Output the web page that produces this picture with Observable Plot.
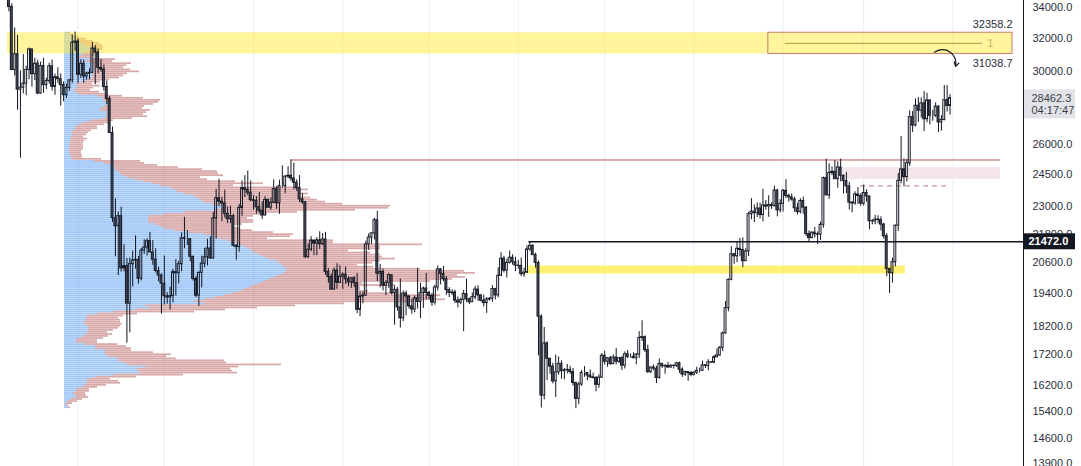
<!DOCTYPE html>
<html><head><meta charset="utf-8">
<script src="https://cdn.jsdelivr.net/npm/d3@7"></script>
<script src="https://cdn.jsdelivr.net/npm/@observablehq/plot@0.6"></script>
<style>
html,body{margin:0;padding:0;background:#fff;}
#wrap{position:relative;width:1081px;height:466px;overflow:hidden;background:#fff;}
#wrap > svg{position:absolute;left:0;top:0;}
</style></head><body><div id="wrap"></div>
<script>
// ---------- daily candles (BTC), from 2022-05-07 ----------
const startDate = "2022-05-07";
const firstOpen = 36020;
const closeMay = [35470,34040,30080,31020,28940,29050,29280,30080,31320,29830,30450,28720,30310,29200,29430,30300,29100,29650,29540,29200,28630,29030,29470,31730,31800];
const highMay  = [36150,35500,34240,32660,32190,30030,31000,30300,31400,31320,30780,30660,30550,30780,29600,30480,30670,29840,30200,29850,29380,29250,29530,32220,32400];
const lowMay   = [34780,33710,30030,29730,27790,25300,28700,28600,29500,29080,29460,28650,28680,28730,28950,29250,28860,28620,29300,28020,28260,28450,28850,29300,31200];
const closeJun = [29800,30450,29700,29860,29910,31370,31130,30200,30110,29090,28420,26580,22490,22140,22580,20380,20470,19020,20550,20700,20720,19970,21100,21230,21500,21030,20730,20280,20100,19780];
const highJun  = [31980,30690,30660,29950,30150,31760,31560,31330,30700,30380,29440,28550,26900,23360,22760,22980,21350,20780,20800,21080,21720,20860,21200,21560,21600,21870,21520,21180,20430,20170];
const lowJun   = [29300,29580,29300,29480,29500,29880,29220,29850,29950,28850,28100,26560,22300,20850,20100,20230,20240,17600,17960,19650,20350,19760,19890,20950,20880,21000,20500,20200,19850,18630];
const closeJul = [19300,19250,19300,20230,20190,20550,21620,21590,21590,20850,19960,19320,20200,20570,20830,21190,20780,22480,23390,23230,23150,22680,22450,22580,21310,21250,22950,23850,23780,23640,23300];
const highJul  = [20880,19430,19640,20350,20730,20670,21850,22530,21950,21600,20870,20060,20250,20880,21200,21580,21680,22750,23800,24280,23430,23760,22990,23020,22660,21340,23100,24200,24450,24670,24200];
const lowJul   = [18970,19000,18780,19050,19300,19770,20250,21180,21320,20650,19880,19240,18910,19620,20400,20480,20750,20760,21580,23000,22340,22500,22250,22250,21250,20710,21040,22580,23420,23500,23230];
const closeAug = [23270,22980,22820,22610,23310,22960,23180,23810,23160,23950,23950,24400,24440,24310,24110,23850,23340,23210,20830,21140,21520,21400,21530,21370,21570,20240,20040,19550,20290,19810,20050];
const highAug  = [23500,23460,23650,23220,23460,23350,23400,24250,23930,24230,24920,24450,24880,25210,25050,24250,24450,23600,23210,21380,21690,21520,21650,21900,21820,21870,20380,20150,20400,20570,20490];
const lowAug   = [22850,22670,22690,22430,22590,22940,22840,23150,22880,22660,23860,23600,24300,24170,23780,23700,23190,23110,20780,20800,21060,20890,20890,21150,21310,20110,19800,19540,19540,19560,19800];
const closeSep = [20130,19950,19830,19990,19800,18790,19290,19320,21360,21650,21830,22400,20170,20240,19700,19800,20110,19420,19540,18880,18480,19400,19290,18920,18800,19220,19080,19410,19590,19420];
const highSep  = [20200,20440,20050,20000,20060,20180,19460,19450,21500,21800,21850,22490,22800,20540,20350,19890,20180,20110,19690,19630,19960,19500,19500,19310,19180,19310,20380,19790,19650,20180];
const lowSep   = [19560,19750,19660,19600,19630,18650,18540,19010,19300,21110,21360,21550,19860,19620,19500,19320,19600,19340,18230,18740,18130,18360,18570,18820,18630,18680,18820,18470,18840,19160];
const closeOct = [19310,19060,19630,20340,20160,19960,19530,19420,19440,19130,19060,19160,19380,19180,19070,19260,19550,19330,19130,19040,19170,19200,19570,19330,20090,20770,20290,20600,20810,20630,20490];
const highOct  = [19480,19400,19720,20480,20370,20460,20060,19620,19540,19530,19270,19220,19520,19950,19230,19420,19680,19700,19350,19340,19250,19250,19700,19600,20410,21020,20870,20750,21090,20930,20830];
const lowOct   = [19160,18920,18960,19500,19730,19850,19330,19250,19320,19020,18860,18980,18000,19070,18990,19070,19160,19100,19080,18900,18660,19110,19070,19160,19240,20060,20200,20000,20550,20510,20250];
const closeNov = [20480,20150,20210,21150,21300,20920,20600,18540,15880,17590,17070,16810,16330,16620,16900,16660,16690,16700,16630,16280,15780,16230,16600,16600,16520,16460,16440,16220,16450,17170];
const highNov  = [20700,20800,20390,21300,21470,21350,21000,20680,18600,18150,17650,17080,16920,17190,17130,17000,16750,16880,16820,16750,16300,16300,16680,16810,16610,16700,16600,16480,16540,17250];
const lowNov   = [20350,20060,20030,20180,21080,20900,20390,17170,15500,15750,16360,16560,16250,15820,16530,16400,16380,16570,16560,16180,15480,15600,16170,16460,16350,16420,16400,16000,16110,16430];
const closeDec = [16970,17090,16890,17110,16970,17090,16840,17220,17130,17130,17090,17210,17780,17810,17360,16630,16780,16740,16440,16900,16820,16830,16780,16840,16830,16920,16710,16550,16630,16600,16540];
const highDec  = [17320,17100,17150,17200,17420,17100,17140,17300,17350,17230,17270,17240,18000,18390,17850,17530,16800,16860,16820,17060,16900,16870,16950,16870,16860,16930,16960,16770,16660,16640,16650];
const lowDec   = [16860,16790,16860,16880,16870,16910,16680,16730,17070,17090,17070,16870,17080,17660,17280,16580,16580,16670,16260,16400,16750,16560,16760,16760,16730,16780,16590,16460,16490,16330,16480];
const closeJan = [16610,16670,16670,16850,16830,16950,16940,17120,17180,17440,17940,18850,19930,20950,20870,21180,21130,20670,21070,22670,22780,22710,22920,22630,23060,23010,23080,23030,23740,22840,23130];
const highJan  = [16630,16790,16760,16990,16880,17040,16970,17180,17400,17490,17990,19100,19960,21260,20990,21450,21610,21640,21180,22750,23370,23080,23170,23160,23800,23280,23500,23180,23950,23800,23320];
const lowJan   = [16500,16550,16600,16650,16750,16670,16910,16910,17100,17150,17310,17910,18720,19890,20550,20610,20850,20410,20660,20860,22420,22300,22520,22460,22330,22850,22530,22880,22990,22550,22720];
const closeFeb = [23730,23490,23430,23330,22930,22760,23260,22960,21800,21630,21860,21790,21770,22200,24330,23520,24570,24630,24280,24840,24440,24190,23940,23190,23150,23560,23490,23140];
const highFeb  = [23800,24250,23580,23590,23430,23160,23370,23450,23010,21940,21900,22090,21890,22320,24380,25250,25020,24870,25190,25120,25250,24480,24600,24130,23220,23690,23880,23600];
const lowFeb   = [22760,23370,23210,23250,22750,22630,22680,22660,21690,21460,21600,21630,21350,21530,22050,23510,23340,24450,24280,23850,24150,23580,23600,22850,22730,23070,23100,23020];
const closeMar = [23630,23470,22360,22350,22430,22410,22210,21710,20360,20190,20630,22160,24200,24750,24380,25050,27420,26970,28040,27770,28170,27310,28330,27490,27490,27990,27140,27270,28350,28030,28462.3];
const highMar  = [24000,23780,23480,22420,22610,22600,22550,22270,21820,20370,20790,22190,24550,26400,25270,25230,27760,27720,28420,28500,28480,28830,28740,28380,27790,28200,28040,27500,29180,29170,28660];
const lowMar   = [23030,23200,21980,22200,22200,22240,21930,21580,20050,19400,19800,20440,21920,24060,23920,24150,24890,26610,26900,27150,27370,26650,27120,27000,27200,27400,26600,26680,27220,27700,27530];

// ---------- volume profile rows (top -> bottom), up volume and total volume ----------
const profileHigh = 32400, profileLow = 15480;
const profileUp = [3,6,9,11,14,17,20,25,28,24,20,17,15,
 26,22,29,29,30,30,30,29,28,28,24,18,12,14,12,10,
 11,14,33,39,39,42,45,40,37,36,43,42,43,39,28,20,15,12,11,9,8,8,7,7,6,6,6,5,5,5,6,6,7,8,
 30,40,50,50,51,53,56,58,63,70,79,88,96,106,110,113,120,129,133,136,139,148,159,158,150,120,100,84,84,84,84,90,95,100,110,125,140,150,155,163,168,175,180,185,188,190,195,200,205,212,215,218,220,222,222,220,215,210,205,200,195,190,185,180,175,168,160,150,140,
 130,140,81,86,71,49,33,23,22,22,20,20,23,24,24,23,23,19,15,12,12,21,31,31,41,41,41,44,54,54,59,64,81,73,73,76,49,31,23,23,23,21,18,12,12,9,11,12,6,4,1,2,4];
const profileTotal = [6,9,15,22,28,35,38,39,38,34,31,30,28,
 51,48,67,62,59,66,75,63,59,55,45,36,28,36,29,26,
 35,41,58,79,96,94,89,80,78,86,82,79,83,68,49,45,40,33,33,27,24,22,19,23,20,19,19,19,19,17,17,18,18,37,
 76,80,93,114,138,153,154,159,136,143,171,199,169,236,244,234,244,236,246,253,261,278,326,324,291,233,203,189,183,189,189,178,169,176,188,209,229,226,203,269,269,358,316,316,284,306,316,318,331,316,308,293,309,356,400,411,393,401,388,366,298,331,296,296,304,330,376,371,381,
 350,280,231,193,161,130,73,59,54,56,56,58,56,54,49,43,48,44,39,33,33,53,62,67,67,89,107,102,112,160,162,217,174,166,168,173,119,72,46,54,56,42,33,25,25,21,22,24,18,13,8,4,6];

// ---------- axis ticks ----------
const yTicks = [34000,32000,30000,26000,24500,23000,21800,20600,19400,18200,17200,16200,15400,14600,13900];

// ---------- drawings ----------
const topZone = {from:"2022-05-07T12:00Z", to:"2023-04-21T17:00Z", lo:31038.7, hi:32358.2};
const boxStart = "2023-01-26T21:00Z";
const boxMid = 31691, boxLineFrom = "2023-02-01T19:00Z", boxLineTo = "2023-04-11T07:00Z", boxTag = "1", boxTagAt = "2023-04-14T00:00Z";
const lowZone = {from:"2022-11-04T05:00Z", to:"2023-03-15T12:00Z", lo:20157, hi:20475};
const redLevel = {price:25210, from:"2022-08-14T00:00Z", to:"2023-04-17T12:00Z"};
const pinkZone = {from:"2023-02-21T14:00Z", to:"2023-04-17T12:00Z", lo:24270, hi:24830};
const dashLevel = {price:23960, from:"2023-02-27T22:00Z", to:"2023-03-31T05:00Z"};
const blackLevel = {price:21472, from:"2022-11-04T16:00Z"};
const arrowPts = {x1:"2023-03-25T14:00Z", y1:31147, x2:"2023-04-01T22:00Z", y2:30284};
const lastPrice = 28462.3, countdown = "04:17:47";

// ---------- build ----------
const closes = [].concat(closeMay,closeJun,closeJul,closeAug,closeSep,closeOct,closeNov,closeDec,closeJan,closeFeb,closeMar);
const highs = [].concat(highMay,highJun,highJul,highAug,highSep,highOct,highNov,highDec,highJan,highFeb,highMar);
const lows = [].concat(lowMay,lowJun,lowJul,lowAug,lowSep,lowOct,lowNov,lowDec,lowJan,lowFeb,lowMar);
const candles = closes.map((c, i) => {
  const date = d3.utcDay.offset(new Date(startDate), i);
  const open = i === 0 ? firstOpen : closes[i - 1];
  return {
    date, open, close: c,
    high: Math.max(highs[i], open, c), low: Math.min(lows[i], open, c),
    top: Math.max(open, c), bot: Math.min(open, c),
    x1: d3.utcHour.offset(date, -8), x2: d3.utcHour.offset(date, 8),
    up: c >= open
  };
});

const nRows = profileUp.length;
const ratio = profileLow / profileHigh;
const rows = profileUp.map((u, k) => ({
  up: u, total: profileTotal[k],
  yA: profileHigh * Math.pow(ratio, (k + 0.12) / nRows),
  yB: profileHigh * Math.pow(ratio, (k + 0.97) / nRows)
}));

const W = 1081, H = 466;
const xDomain = [new Date("2022-05-05T01:46Z"), new Date("2023-04-25T12:43Z")];
const yScale = {type: "log", domain: [13818, 34470], axis: null};
const common = {width: W, height: H, marginTop: 0, marginBottom: 0, marginLeft: 0, marginRight: 58};
const D = s => new Date(s);
const months = d3.utcMonth.range(new Date("2022-06-01"), new Date("2023-04-02"));

// layer 1: grid
const grid = Plot.plot({
  ...common,
  style: {background: "#ffffff"},
  x: {type: "utc", domain: xDomain, axis: null},
  y: yScale,
  marks: [Plot.ruleX(months, {stroke: "#eceef2", strokeWidth: 1})]
});

// layer 2: volume profile (semi-transparent, like the original)
const profile = Plot.plot({
  width: W, height: H, marginTop: 0, marginBottom: 0, marginLeft: 0, marginRight: 0,
  style: {background: "transparent"},
  x: {type: "linear", domain: [0, 1000], range: [64, 1064], axis: null},
  y: yScale,
  marks: [
    Plot.rect(rows, {x1: 0, x2: "up", y1: "yA", y2: "yB", fill: "#5c9ff0", fillOpacity: 0.58}),
    Plot.rect(rows, {x1: "up", x2: "total", y1: "yA", y2: "yB", fill: "#b35252", fillOpacity: 0.5})
  ]
});

// layer 3: drawings, candles, axis
const front = Plot.plot({
  ...common,
  style: {background: "transparent", fontFamily: "Liberation Sans, Arial, sans-serif", fontSize: "11px", color: "#2a2e39"},
  x: {type: "utc", domain: xDomain, axis: null},
  y: yScale,
  marks: [
    Plot.rect([pinkZone], {x1: d => D(d.from), x2: d => D(d.to), y1: "lo", y2: "hi", fill: "#f4e6e8"}),
    Plot.rect([topZone], {x1: d => D(d.from), x2: d => D(d.to), y1: "lo", y2: "hi", fill: "#ffeb3b", fillOpacity: 0.5}),
    Plot.rect([topZone], {x1: () => D(boxStart), x2: d => D(d.to), y1: "lo", y2: "hi", fill: "none", stroke: "#c97d6c", strokeWidth: 1}),
    Plot.ruleY([boxMid], {x1: D(boxLineFrom), x2: D(boxLineTo), stroke: "#a99b40", strokeWidth: 1}),
    Plot.text([boxTag], {x: D(boxTagAt), y: boxMid, text: d => d, fill: "#c4b55c", fontSize: 11}),
    Plot.text([topZone], {x: d => D(d.to), y: "hi", text: d => d.hi.toFixed(1), textAnchor: "end", dy: -8, fill: "#2a2e39", fontSize: 11}),
    Plot.text([topZone], {x: d => D(d.to), y: "lo", text: d => d.lo.toFixed(1), textAnchor: "end", dy: 10, fill: "#2a2e39", fontSize: 11}),
    Plot.rect([lowZone], {x1: d => D(d.from), x2: d => D(d.to), y1: "lo", y2: "hi", fill: "#ffeb3b", fillOpacity: 0.72}),
    Plot.ruleY([redLevel], {y: "price", x1: d => D(d.from), x2: d => D(d.to), stroke: "#c25a5a", strokeWidth: 1}),
    Plot.ruleY([dashLevel], {y: "price", x1: d => D(d.from), x2: d => D(d.to), stroke: "#c47474", strokeWidth: 1, strokeDasharray: "5,4"}),
    Plot.ruleY([blackLevel], {y: "price", x1: d => D(d.from), x2: () => xDomain[1], stroke: "#131722", strokeWidth: 1.5}),
    // candles
    Plot.ruleX(candles, {x: "date", y1: "low", y2: "bot", stroke: "#131722", strokeWidth: 1}),
    Plot.ruleX(candles, {x: "date", y1: "top", y2: "high", stroke: "#131722", strokeWidth: 1}),
    Plot.rect(candles, {x1: "x1", x2: "x2", y1: "bot", y2: "top", fill: d => d.up ? "none" : "#4b5161", stroke: "#131722", strokeWidth: 1}),
    // annotation arrow
    Plot.arrow([arrowPts], {x1: d => D(d.x1), y1: "y1", x2: d => D(d.x2), y2: "y2", bend: 70, headLength: 6, stroke: "#131722", strokeWidth: 1.2}),
    // right axis
    Plot.ruleX([xDomain[1]], {stroke: "#131722", strokeWidth: 1}),
    Plot.axisY(yTicks, {anchor: "right", tickSize: 0, tickPadding: 9, tickFormat: d => d.toFixed(1), fontSize: 11}),
    // price labels on axis
    Plot.rect([lastPrice], {y1: d => d, y2: d => d, insetTop: -8.3, insetBottom: -20.7, insetLeft: 1024, insetRight: -52, fill: "#e1e3e8"}),
    Plot.text([lastPrice], {y: d => d, text: d => d.toFixed(1), frameAnchor: "right", dx: 8, textAnchor: "start", fill: "#3c3f47", fontSize: 11}),
    Plot.text([countdown], {y: lastPrice, text: d => d, frameAnchor: "right", dx: 8, dy: 12.5, textAnchor: "start", fill: "#3c3f47", fontSize: 11}),
    Plot.rect([blackLevel], {y1: "price", y2: "price", insetTop: -8, insetBottom: -8, insetLeft: 1024, insetRight: -52, fill: "#131722"}),
    Plot.text([blackLevel], {y: "price", text: d => d.price.toFixed(1), frameAnchor: "right", dx: 5, textAnchor: "start", fill: "#ffffff", fontWeight: "bold", fontSize: 11})
  ]
});

const wrap = document.getElementById("wrap");
wrap.appendChild(grid);
wrap.appendChild(profile);
wrap.appendChild(front);
</script></body></html>
